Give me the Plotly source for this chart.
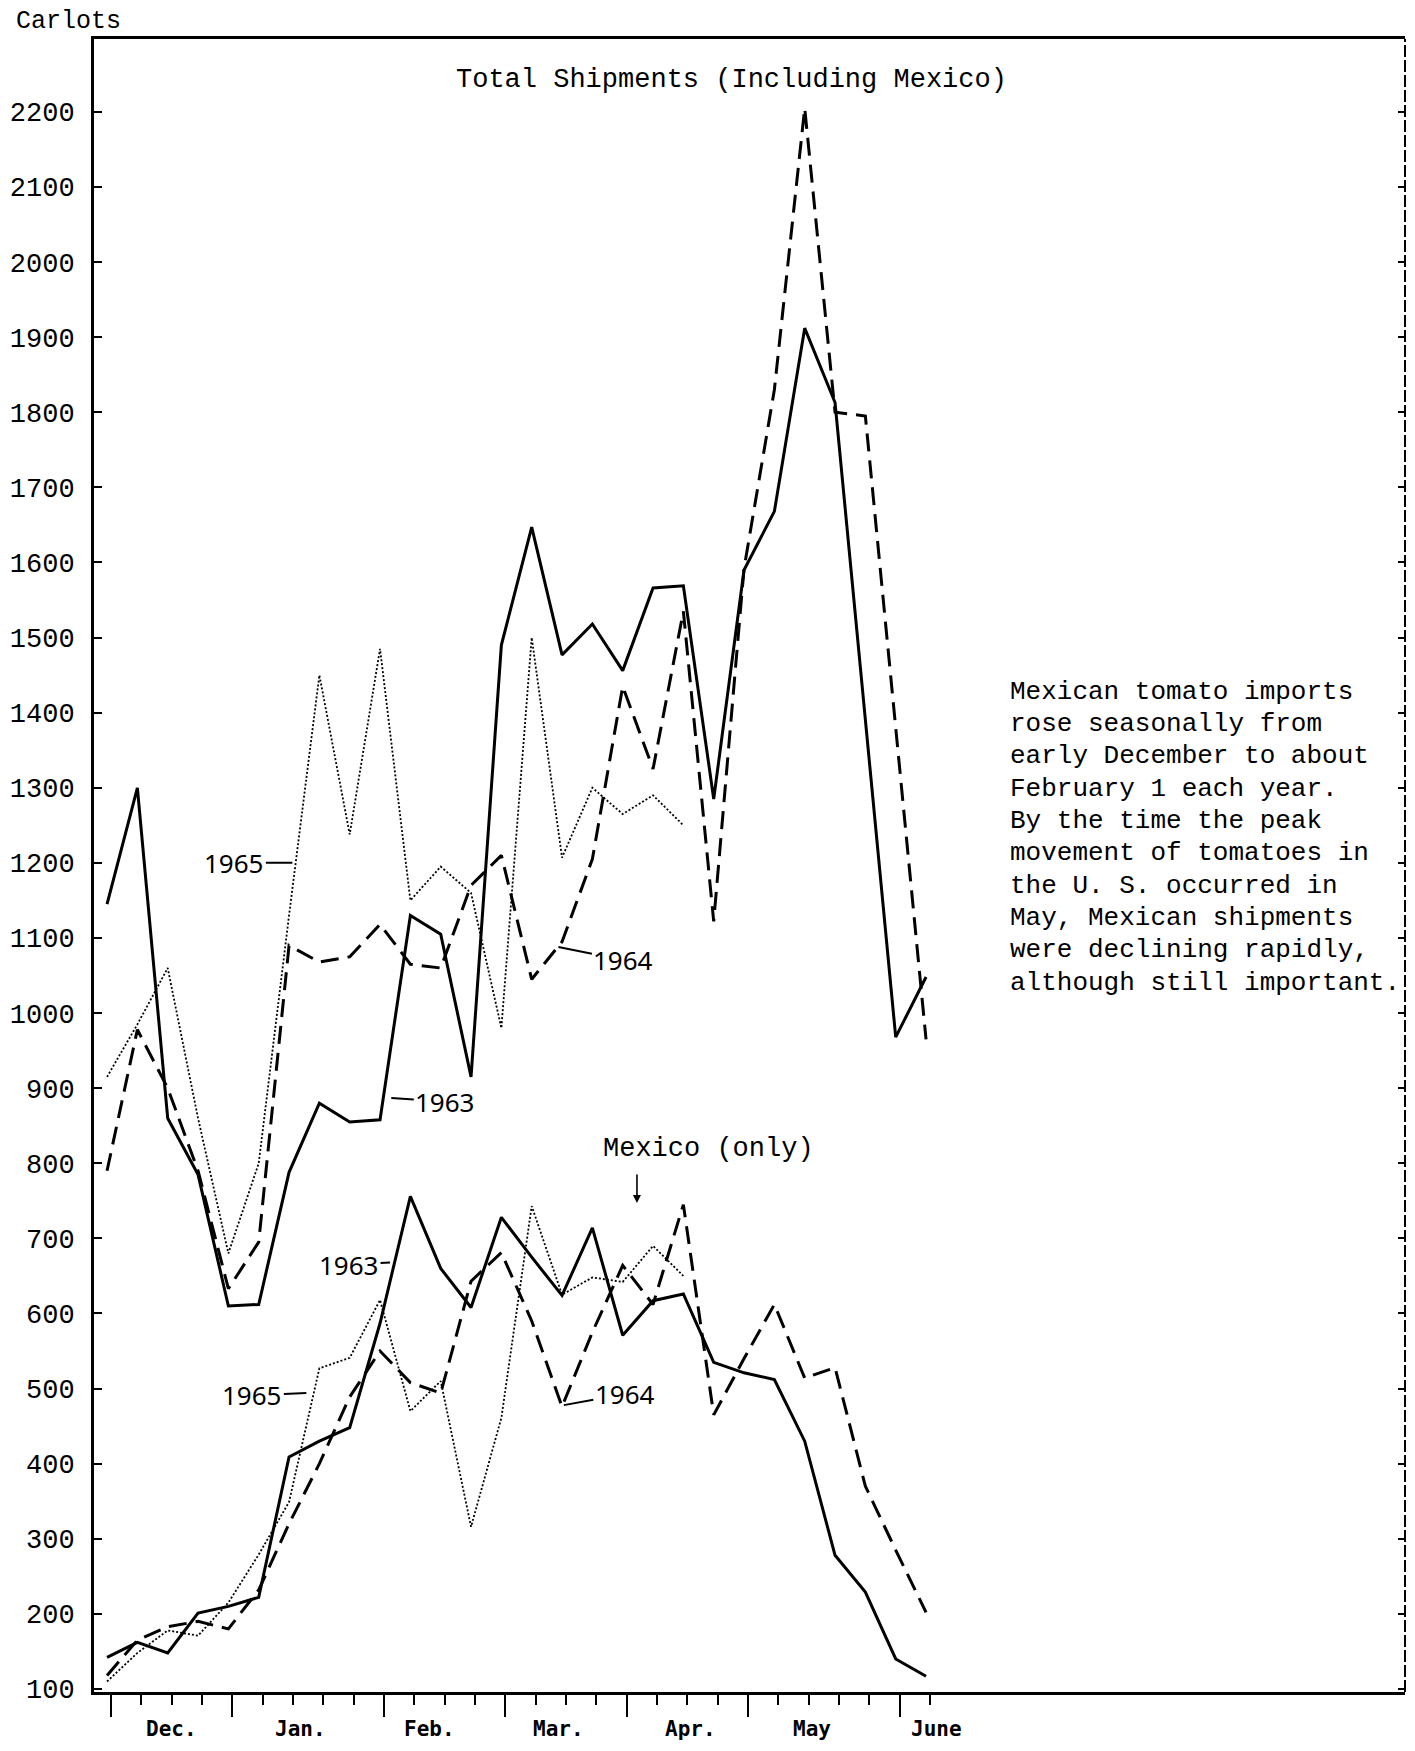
import plotly.graph_objects as go

# ---------------- data (weekly carlot shipments, early Dec. .. early June) ----------------
weeks = list(range(28))
total_1963 = [1145, 1300, 860, 785, 610, 612, 788, 880, 855, 858, 1130, 1105, 915, 1490,
              1647, 1477, 1518, 1456, 1566, 1569, 1285, 1590, 1668, 1912, 1813, 1390, 968, 1048]
total_1964 = [790, 978, 900, 790, 633, 695, 1090, 1068, 1075, 1118, 1065, 1060, 1170, 1210,
              1045, 1095, 1205, 1435, 1325, 1535, 1122, 1592, 1830, 2205, 1800, 1795, 1380, 965]
total_1965 = [915, 985, 1060, 860, 680, 800, 1130, 1450, 1238, 1485, 1150, 1195, 1160, 980,
              1500, 1207, 1300, 1265, 1290, 1250]
mexico_1963 = [142, 162, 148, 201, 210, 222, 409, 430, 448, 587, 756, 660, 608, 728,
               675, 624, 714, 571, 617, 626, 535, 521, 512, 430, 278, 229, 140, 117]
mexico_1964 = [118, 165, 183, 190, 180, 232, 320, 400, 489, 550, 508, 494, 643, 681,
               590, 476, 575, 664, 612, 745, 465, 540, 612, 514, 528, 370, 285, 202]
mexico_1965 = [110, 148, 178, 171, 215, 279, 349, 527, 541, 618, 470, 510, 316, 461,
               743, 625, 648, 642, 690, 650]

month_labels = ["Dec.", "Jan.", "Feb.", "Mar.", "Apr.", "May", "June"]
month_pos = [2.0, 6.25, 10.5, 14.75, 19.1, 23.1, 27.2]
month_ticks = [0, 4, 9, 13, 17, 21, 26]
y_ticks = list(range(100, 2300, 100))

note_lines = [
    "Mexican tomato imports",
    "rose seasonally from",
    "early December to about",
    "February 1 each year.",
    "By the time the peak",
    "movement of tomatoes in",
    "the U. S. occurred in",
    "May, Mexican shipments",
    "were declining rapidly,",
    "although still important.",
]

# ---------------- figure ----------------
TYPE = "Liberation Mono"
BLACK = "#000000"

# the page body has an 8px default margin on every side; keep the figure inside the window
OFF = 8
PLOT_L, PLOT_T, PLOT_R, PLOT_B = 89, 39, 1405, 1692          # plot box in page pixels
W, H = 1415 - 2 * OFF, 1751 - 2 * OFF
ML, MT = PLOT_L - OFF, PLOT_T - OFF
PW, PH = PLOT_R - PLOT_L, PLOT_B - PLOT_T
MR, MB = W - ML - PW, H - MT - PH

# tick marks sit slightly to the right of the plotted weekly points in the original
TS = 0.13

fig = go.Figure()

solid = dict(color=BLACK, width=3)
dashed = dict(color=BLACK, width=3, dash="18px,9px")
dotted = dict(color=BLACK, width=1.8, dash="2px,2px")

fig.add_trace(go.Scatter(x=weeks, y=total_1963, mode="lines", line=solid, name="1963 total"))
fig.add_trace(go.Scatter(x=weeks, y=total_1964, mode="lines", line=dashed, name="1964 total"))
fig.add_trace(go.Scatter(x=weeks[:len(total_1965)], y=total_1965, mode="lines", line=dotted,
                         name="1965 total"))
fig.add_trace(go.Scatter(x=weeks, y=mexico_1963, mode="lines", line=solid, name="1963 Mexico",
                         yaxis="y2"))
fig.add_trace(go.Scatter(x=weeks, y=mexico_1964, mode="lines", line=dashed, name="1964 Mexico",
                         yaxis="y2"))
fig.add_trace(go.Scatter(x=weeks[:len(mexico_1965)], y=mexico_1965, mode="lines", line=dotted,
                         name="1965 Mexico", yaxis="y2"))

YR = [96, 2297]
XR = [-0.56 + TS, 42.66 + TS]


def px_to_paper_x(px):
    return (px - PLOT_L) / PW


def px_to_paper_y(py):
    return (PLOT_B - py) / PH


ann = []

# axis title and chart titles
ann.append(dict(text="Carlots", x=px_to_paper_x(9), y=px_to_paper_y(22), xref="paper", yref="paper",
                xanchor="left", yanchor="middle", showarrow=False,
                font=dict(family=TYPE, size=25, color=BLACK)))
ann.append(dict(text="Total Shipments (Including Mexico)", x=px_to_paper_x(729), y=px_to_paper_y(80),
                xref="paper", yref="paper", xanchor="center", yanchor="middle", showarrow=False,
                font=dict(family=TYPE, size=27, color=BLACK)))
ann.append(dict(text="Mexico (only)", x=px_to_paper_x(706), y=px_to_paper_y(1149),
                xref="paper", yref="paper", xanchor="center", yanchor="middle", showarrow=False,
                font=dict(family=TYPE, size=27, color=BLACK)))
# small arrow under "Mexico (only)"
ann.append(dict(text="", x=17.34 + TS, y=747, xref="x", yref="y", showarrow=True, arrowhead=2,
                arrowsize=1, arrowwidth=1.6, arrowcolor=BLACK, ax=0, ay=-30))

# note on the right
for i, line in enumerate(note_lines):
    ann.append(dict(text=line, x=px_to_paper_x(1006), y=px_to_paper_y(691.7 + 32.33 * i),
                    xref="paper", yref="paper", xanchor="left", yanchor="middle", showarrow=False,
                    font=dict(family=TYPE, size=26, color=BLACK)))

# month labels under the axis
for lab, pos in zip(month_labels, month_pos):
    ann.append(dict(text="<b>" + lab + "</b>", x=pos + TS, y=0, xref="x", yref="paper",
                    xanchor="center", yanchor="middle", yshift=-37, showarrow=False,
                    font=dict(family="DejaVu Sans Mono", size=21, color=BLACK)))

# year labels with leader lines
YEARF = dict(family="Noto Sans", size=26, color=BLACK)
leaders = [
    ("1965", 5.98, 1200, -58, 0),
    ("1964", 14.75, 1088, 65, 13),
    ("1963", 9.24, 887, 54, 4),
    ("1963", 9.2, 668, -41, 3),
    ("1965", 6.44, 494, -54, 2),
    ("1964", 14.93, 478, 61, -11),
]
for txt, xk, yv, ax, ay in leaders:
    ann.append(dict(text=txt, x=xk + TS, y=yv, xref="x", yref="y", showarrow=True, arrowhead=0,
                    arrowwidth=2, arrowcolor=BLACK, ax=ax, ay=ay, standoff=0, startstandoff=0,
                    font=YEARF))

fig.update_layout(
    width=W, height=H,
    margin=dict(l=ML, r=MR, t=MT, b=MB),
    paper_bgcolor="white", plot_bgcolor="white",
    showlegend=False,
    hovermode=False,
    annotations=ann,
    xaxis=dict(range=XR, showgrid=False, zeroline=False, showline=True, linecolor=BLACK,
               linewidth=3, mirror=True, tickmode="array", tickvals=[t + TS for t in month_ticks],
               ticks="outside", ticklen=22, tickwidth=1.5, tickcolor=BLACK, showticklabels=False,
               minor=dict(tickmode="array", tickvals=[w + TS for w in weeks], ticks="outside",
                          ticklen=10, tickwidth=1.5, tickcolor=BLACK, showgrid=False)),
    yaxis=dict(range=YR, showgrid=False, zeroline=False, showline=True, linecolor=BLACK,
               linewidth=3, tickmode="array", tickvals=y_ticks, ticktext=[str(v) for v in y_ticks],
               ticks="inside", ticklen=8, tickwidth=1.5, tickcolor=BLACK,
               tickfont=dict(family=TYPE, size=27, color=BLACK), ticklabelstandoff=11),
    yaxis2=dict(range=YR, overlaying="y", side="right", showgrid=False, zeroline=False,
                showline=False, tickmode="array", tickvals=y_ticks, ticks="inside", ticklen=7,
                tickwidth=1.5, tickcolor=BLACK, showticklabels=False),
    shapes=[dict(type="line", xref="paper", yref="paper", x0=1, x1=1, y0=0, y1=1,
                 line=dict(color=BLACK, width=2, dash="12px,3px"))],
)

fig.write_html("out.html", config={"displayModeBar": False})
